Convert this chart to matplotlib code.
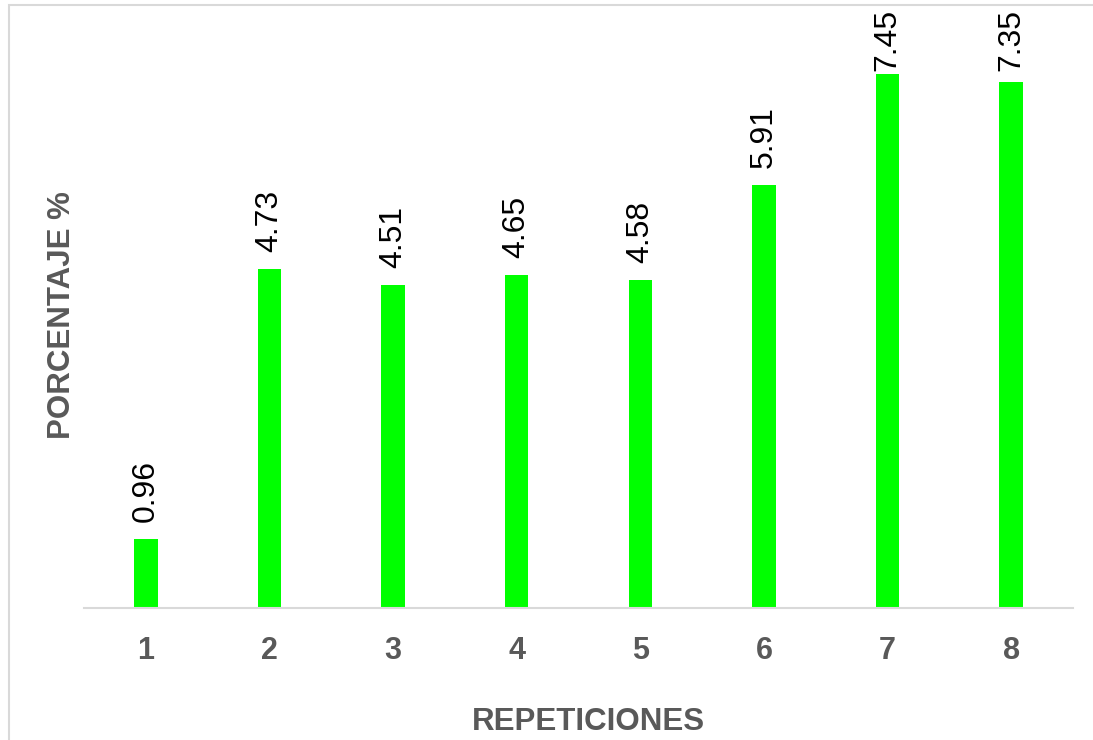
import matplotlib.pyplot as plt
from matplotlib.patches import Rectangle

repeticiones = ["1", "2", "3", "4", "5", "6", "7", "8"]
porcentaje = [0.96, 4.73, 4.51, 4.65, 4.58, 5.91, 7.45, 7.35]

plt.rcParams["font.family"] = ["Liberation Sans", "DejaVu Sans"]

W, H = 1093, 740
DPI = 100
fig = plt.figure(figsize=(W / DPI, H / DPI), dpi=DPI)

# light frame around the chart area (open on the right/bottom edges)
fig.patches.append(
    Rectangle((9 / W, -0.05), 1.05, 1.05 - 5 / H, transform=fig.transFigure,
              fill=False, edgecolor="#d9d9d9", linewidth=1.5)
)

ax = fig.add_axes([84 / W, 1 - 608 / H, (1073 - 84) / W, (608 - 35) / H])

x = range(len(repeticiones))
bars = ax.bar(x, porcentaje, width=0.19, color="#00ff00")

gap_pt = 17 * 72 / DPI
labels = []
for rect, val in zip(bars, porcentaje):
    labels.append(ax.annotate(
        f"{val:.2f}",
        xy=(rect.get_x() + rect.get_width() / 2, rect.get_height()),
        xytext=(0, gap_pt), textcoords="offset points",
        ha="center", va="bottom", rotation=90,
        fontsize=23, color="black", annotation_clip=False,
    ))

ax.set_xlim(-0.5, len(repeticiones) - 0.5)
ax.set_ylim(0, 8)
ax.set_xticks(list(x))
ax.set_xticklabels(repeticiones, fontsize=22, fontweight="bold", color="#595959")
ax.tick_params(axis="x", length=0, pad=20)
ax.set_yticks([])

for side in ("top", "right", "left"):
    ax.spines[side].set_visible(False)
ax.spines["bottom"].set_color("#d9d9d9")
ax.spines["bottom"].set_linewidth(1.5)

fig.text(588 / W, 1 - 722 / H, "REPETICIONES", ha="center", va="center",
         fontsize=22.5, fontweight="bold", color="#595959")
fig.text(62 / W, 1 - 315 / H, "PORCENTAJE %", ha="center", va="center",
         rotation=90, fontsize=22.5, fontweight="bold", color="#595959")

# keep value labels inside the frame: push tall ones down under the top edge
fig.canvas.draw()
renderer = fig.canvas.get_renderer()
top_limit = H - 9
for ann in labels:
    bb = ann.get_window_extent(renderer)
    if bb.y1 > top_limit:
        shift = (bb.y1 - top_limit) * 72 / DPI
        ann.xyann = (0, ann.xyann[1] - shift)

fig.savefig("out.png", dpi=DPI)
